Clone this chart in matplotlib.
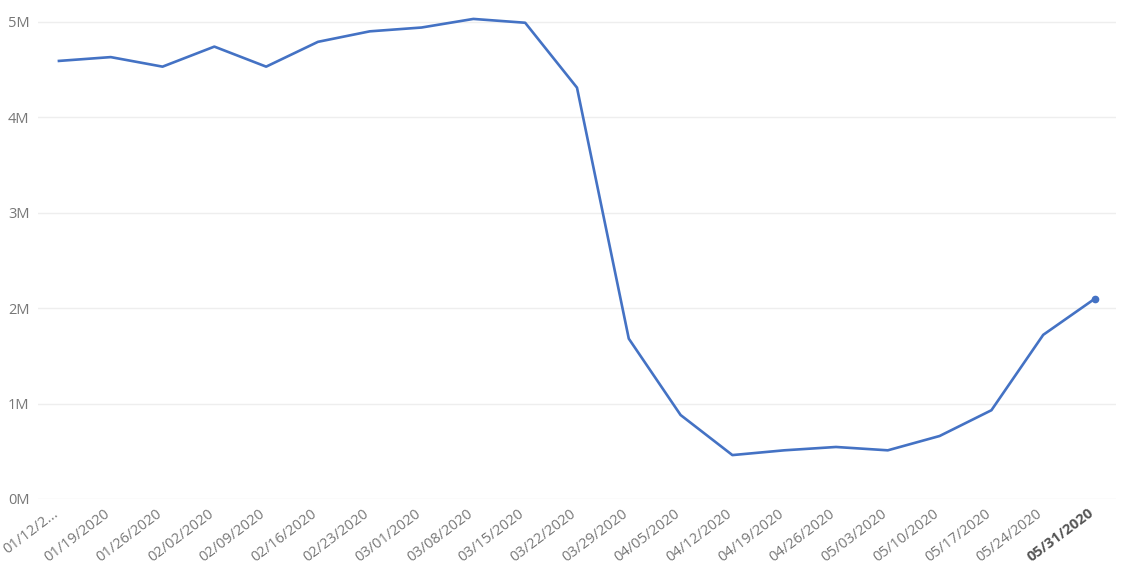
import matplotlib.pyplot as plt
import numpy as np

dates = ['01/12/2...', '01/19/2020', '01/26/2020', '02/02/2020', '02/09/2020',
         '02/16/2020', '02/23/2020', '03/01/2020', '03/08/2020', '03/15/2020',
         '03/22/2020', '03/29/2020', '04/05/2020', '04/12/2020', '04/19/2020',
         '04/26/2020', '05/03/2020', '05/10/2020', '05/17/2020', '05/24/2020',
         '05/31/2020']
values = [4.59, 4.63, 4.53, 4.74, 4.53, 4.79, 4.90, 4.94, 5.03, 4.99,
          4.31, 1.68, 0.88, 0.46, 0.51, 0.545, 0.51, 0.66, 0.93, 1.72, 2.10]
values = [v * 1e6 for v in values]

plt.rcParams['font.family'] = ['Open Sans', 'DejaVu Sans']

fig = plt.figure(figsize=(11.33, 5.77), dpi=100)
ax = fig.add_axes([0.0335, 0.1352, 0.9515, 0.8353])

x = np.arange(len(dates))
ax.plot(x, values, color='#4472C4', lw=1.9, solid_joinstyle='round')
ax.plot(x[-1], values[-1], 'o', color='#4472C4', ms=4.5)

ax.set_xlim(-0.405, len(dates) - 1 + 0.405)
ax.set_ylim(0, 5.05e6)
ax.set_yticks(np.arange(0, 6) * 1e6)
ax.set_yticklabels([f'{i}M' for i in range(6)])
ax.set_xticks(x)
ax.set_xticklabels([])

# x labels, nudged left a little like the original
for i, d in enumerate(dates):
    last = i == len(dates) - 1
    ax.annotate(d, xy=(i, 0), xycoords=('data', 'axes fraction'),
                xytext=(-5, -5), textcoords='offset points',
                rotation=37, ha='right', va='top', rotation_mode='anchor',
                fontsize=10.5, color='#555555' if last else '#777777',
                fontweight='bold' if last else 'normal')

for lab in ax.get_yticklabels():
    lab.set_color('#777777')
    lab.set_fontsize(10.5)

ax.grid(axis='y', color='#eeeeee', lw=1)
ax.set_axisbelow(True)
for s in ax.spines.values():
    s.set_visible(False)
ax.tick_params(axis='y', length=0, pad=6)
ax.tick_params(axis='x', length=0)

plt.savefig('out.png', dpi=100)
